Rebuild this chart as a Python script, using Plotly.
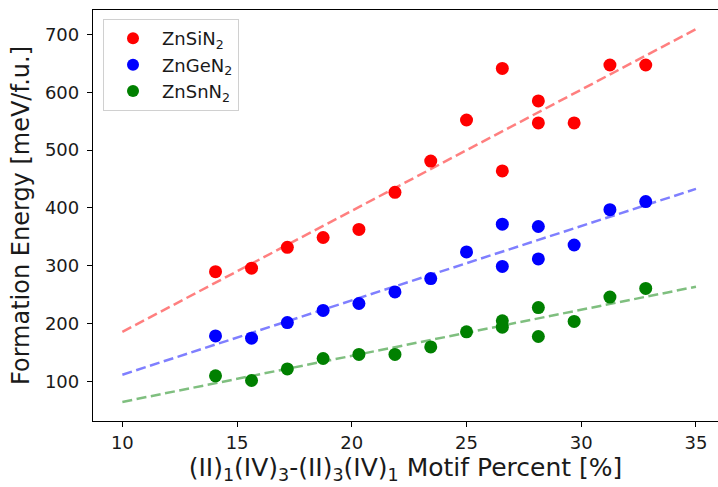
import plotly.graph_objects as go

motif_pct = [14.06, 15.63, 17.19, 18.75, 20.31, 21.88, 23.44, 25.0, 26.56, 26.56,
             28.13, 28.13, 29.69, 31.25, 32.81]
znsin2 = [290, 296, 332, 349, 363, 427, 481, 552, 641, 464, 585, 547, 547, 647, 647]
zngen2 = [179, 175, 202, 223, 235, 255, 278, 324, 372, 299, 368, 312, 336, 397, 411]
znsnn2 = [110, 102, 122, 140, 147, 147, 160, 186, 205, 194, 228, 178, 204, 246, 261]

fit_x = [10, 35]
znsin2_fit = [186, 709]
zngen2_fit = [112, 433]
znsnn2_fit = [65, 264]

names = ["ZnSiN<sub>2</sub>", "ZnGeN<sub>2</sub>", "ZnSnN<sub>2</sub>"]
colors = ["#ff0000", "#0000ff", "#008000"]
line_colors = ["rgba(255,0,0,0.5)", "rgba(0,0,255,0.5)", "rgba(0,128,0,0.5)"]

fig = go.Figure()
for ys, name, c in zip([znsin2, zngen2, znsnn2], names, colors):
    fig.add_trace(go.Scatter(x=motif_pct, y=ys, mode="markers", name=name,
                             marker=dict(color=c, size=13, line=dict(width=0))))
for fy, lc in zip([znsin2_fit, zngen2_fit, znsnn2_fit], line_colors):
    fig.add_trace(go.Scatter(x=fit_x, y=fy, mode="lines", showlegend=False,
                             line=dict(color=lc, width=2.5, dash="10px,4.5px")))

font = "DejaVu Sans"
fig.update_layout(
    width=718, height=487,
    margin=dict(l=93, r=0, t=10, b=66),
    plot_bgcolor="white", paper_bgcolor="white",
    font=dict(family=font, color="#1a1a1a", size=18),
    legend=dict(x=0.016, y=0.978, xanchor="left", yanchor="top",
                bgcolor="rgba(255,255,255,0.8)", bordercolor="#d0d0d0", borderwidth=1,
                font=dict(family=font, size=18, color="#1a1a1a"),
                itemsizing="constant", itemwidth=48, tracegroupgap=0),
    xaxis=dict(range=[8.72, 35.96], tickvals=[10, 15, 20, 25, 30, 35],
               showgrid=False, zeroline=False, showline=True, linecolor="black",
               linewidth=1.3, mirror=True, ticks="outside", ticklen=5,
               tickcolor="black", tickfont=dict(size=18),
               title=dict(text="(II)<sub>1</sub>(IV)<sub>3</sub>-(II)<sub>3</sub>(IV)<sub>1</sub> Motif Percent [%]",
                          font=dict(size=25), standoff=6)),
    yaxis=dict(range=[32, 742], tickvals=[100, 200, 300, 400, 500, 600, 700],
               showgrid=False, zeroline=False, showline=True, linecolor="black",
               linewidth=1.3, mirror=False, ticks="outside", ticklen=5,
               tickcolor="black", tickfont=dict(size=18), ticklabelstandoff=4,
               title=dict(text="Formation Energy [meV/f.u.]", font=dict(size=24), standoff=8)),
)
fig.write_html("out.html")
